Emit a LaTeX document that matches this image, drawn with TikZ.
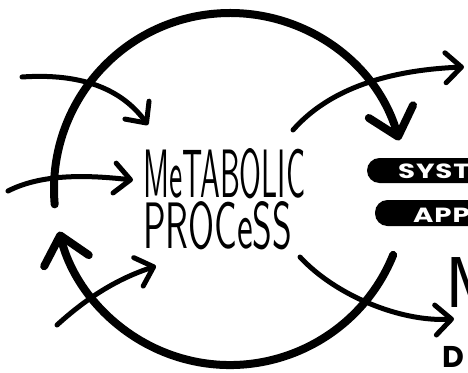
\documentclass[tikz,border=0pt]{standalone}
\usepackage{fontspec}
\usetikzlibrary{arrows.meta}
\newfontfamily\pillfont{Poppins}[LetterSpace=3]
\newfontfamily\plainpill{Poppins}
\begin{document}
\begin{tikzpicture}[x=1pt,y=-1pt,line cap=round,line join=round,
  bigarc/.style={line width=8pt,-{Straight Barb[length=26pt,width=46pt,round]}},
  thinarrow/.style={line width=5pt,-{Straight Barb[length=16pt,width=30pt,round]}},
  pill/.style={fill=black,rounded corners=12.5pt},
  pilltext/.style={text=white,font=\pillfont\bfseries\fontsize{20.5}{20.5}\selectfont,anchor=base west,inner sep=0pt},
  mainword/.style={anchor=north west,inner sep=0pt}]
\useasboundingbox[fill=white] (0,0) rectangle (468,372);
% circle centre
\coordinate (C) at (230,189);
\path (C) ++(175:176) coordinate (topS);
\path (C) ++(22:176) coordinate (botS);
% big arcs
\draw[bigarc] (topS) arc[start angle=175,end angle=344,radius=176];
\draw[bigarc] (botS) arc[start angle=22,end angle=166,radius=176];
% text
\node[mainword] (w1) at (143,148) {\resizebox{162pt}{49pt}{\sffamily MeTABOLIC}};
\node[mainword] (w2) at (143,201) {\resizebox{149pt}{47pt}{\sffamily PROCeSS}};
% incoming arrows
\coordinate (in1s) at (22,77);
\coordinate (in1e) at (148,125);
\coordinate (in2s) at (8,191);
\coordinate (in2e) at (133,180);
\coordinate (in3s) at (57,325);
\coordinate (in3e) at (156,266);
\draw[thinarrow] (in1s) .. controls (95,72) and (128,98) .. (in1e);
\draw[thinarrow] (in2s) .. controls (45,172) and (95,176) .. (in2e);
\draw[thinarrow] (in3s) .. controls (90,295) and (120,278) .. (in3e);
% outgoing arrows
\coordinate (out1s) at (293,130);
\coordinate (out1e) at (464,67);
\coordinate (out2s) at (300,257);
\coordinate (out2e) at (454,319);
\draw[thinarrow] (out1s) .. controls (330,88) and (390,70) .. (out1e);
\draw[thinarrow] (out2s) .. controls (335,295) and (400,322) .. (out2e);
% pills on the right
\fill[pill] (367,158) rectangle (500,183);
\fill[pill] (375,200) rectangle (500,226);
\node[pilltext] (p1) at (398,178) {\scalebox{1.35}[1]{SYST}};
\node[pilltext] (p2) at (413,222) {\scalebox{1.35}[1]{APP}};
% letters cut at the edge
\node[anchor=base west,inner sep=0pt,font=\sffamily\fontsize{72}{72}\selectfont] (m1) at (445,307) {M};
\node[anchor=base west,inner sep=0pt,font=\plainpill\bfseries\fontsize{30}{30}\selectfont] (d1) at (442,367) {D};
\end{tikzpicture}
\end{document}
